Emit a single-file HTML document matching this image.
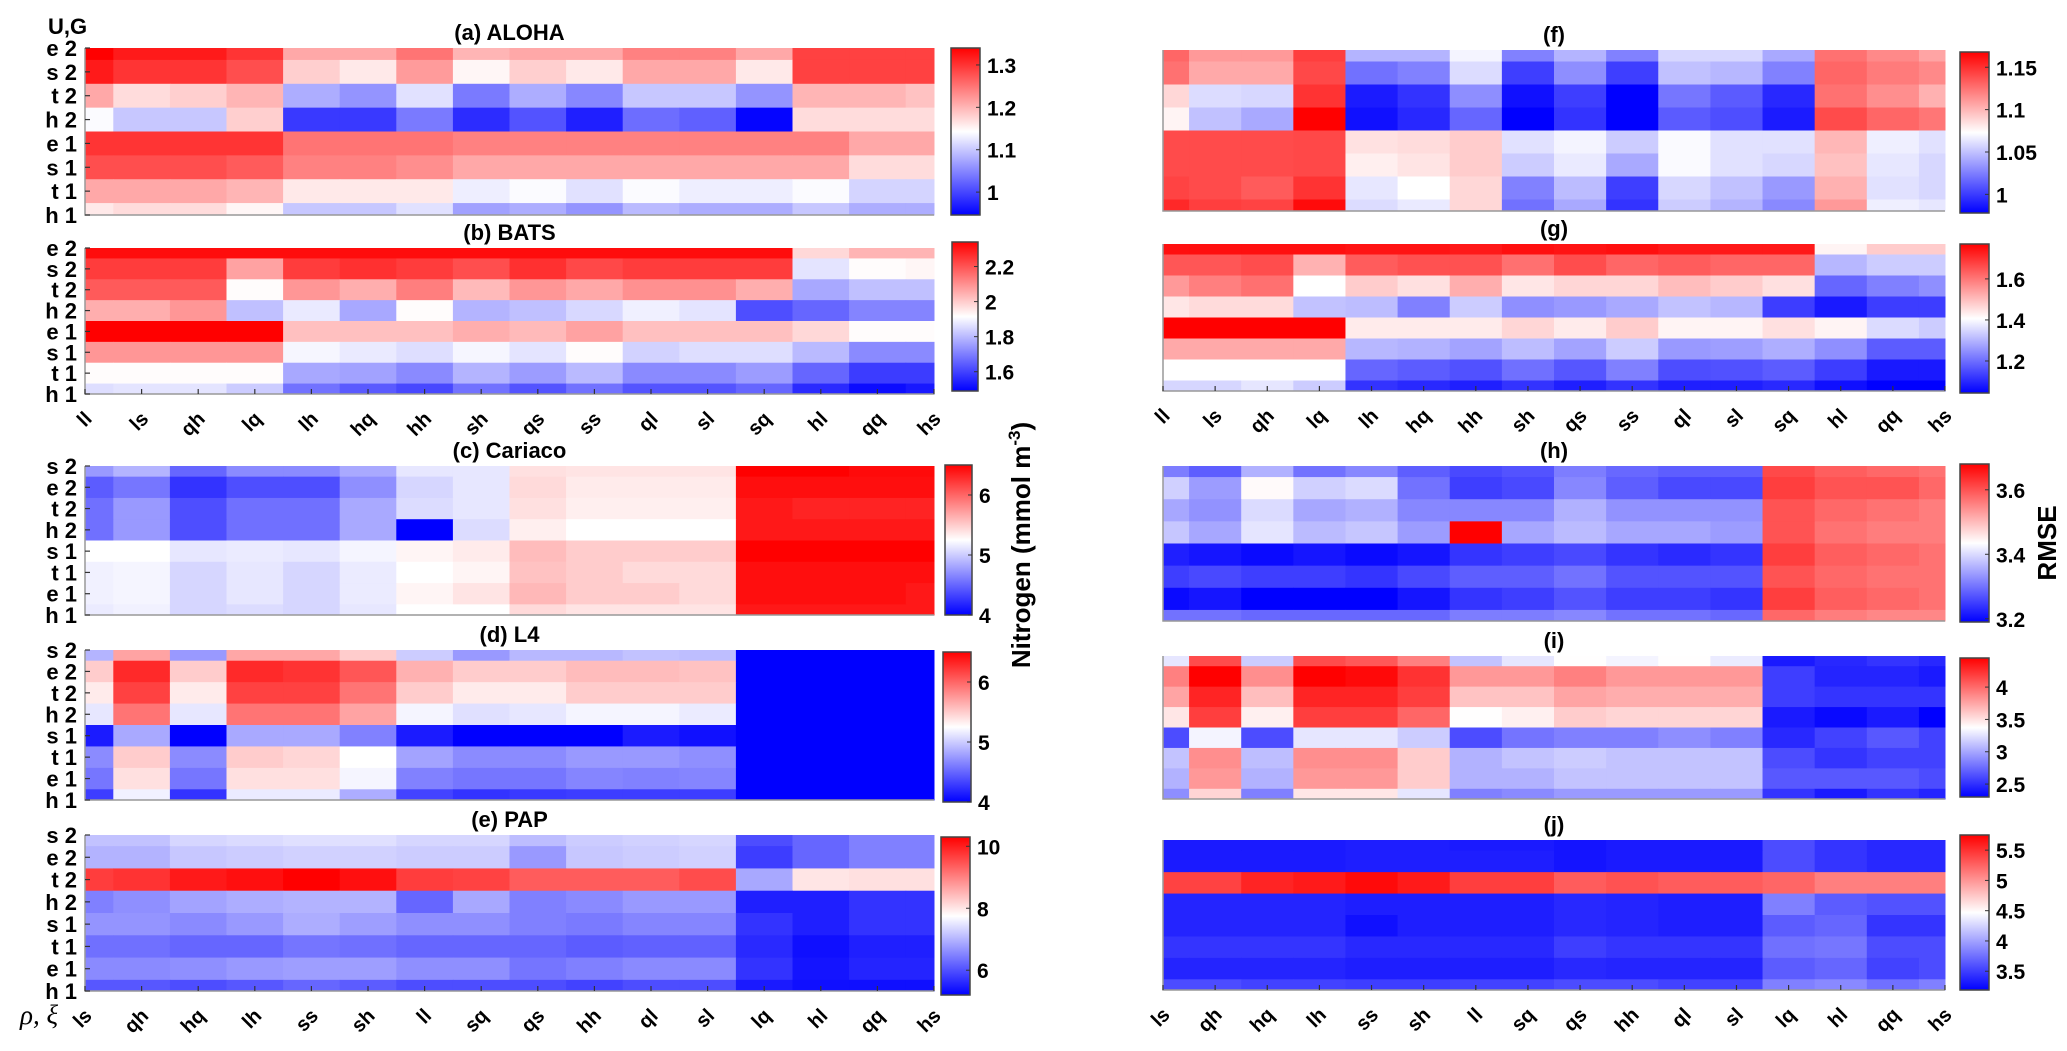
<!DOCTYPE html>
<html><head><meta charset="utf-8"><style>
html,body{margin:0;padding:0;background:#fff;}
svg{display:block;font-family:"Liberation Sans",Arial,sans-serif;}
</style></head><body>
<svg id="fig" width="2067" height="1051" viewBox="0 0 2067 1051" xmlns="http://www.w3.org/2000/svg">
<defs><linearGradient id="bwr" x1="0" y1="1" x2="0" y2="0"><stop offset="0" stop-color="#0000ff"/><stop offset="0.5" stop-color="#ffffff"/><stop offset="1" stop-color="#ff0000"/></linearGradient></defs>
<text x="48" y="34" font-size="22" font-weight="bold">U,G</text>
<text x="20" y="1024" font-size="27" font-style="italic" font-family="Liberation Serif, serif">ρ, ξ</text>
<text transform="translate(1030,545) rotate(-90)" text-anchor="middle" font-size="26" font-weight="bold">Nitrogen (mmol m<tspan dy="-10" font-size="17">-3</tspan><tspan dy="10">)</tspan></text>
<text transform="translate(2056,543) rotate(-90)" text-anchor="middle" font-size="26" font-weight="bold">RMSE</text>
</svg>
<script>
const rowsTop = ["e 2","s 2","t 2","h 2","e 1","s 1","t 1","h 1"];
const rowsBot = ["s 2","e 2","t 2","h 2","s 1","t 1","e 1","h 1"];
const colsTop = ["ll","ls","qh","lq","lh","hq","hh","sh","qs","ss","ql","sl","sq","hl","qq","hs"];
const colsBot = ["ls","qh","hq","lh","ss","sh","ll","sq","qs","hh","ql","sl","lq","hl","qq","hs"];

const dataA = [
[1.34,1.32,1.32,1.30,1.21,1.21,1.25,1.20,1.21,1.21,1.24,1.24,1.21,1.29,1.29,1.29],
[1.32,1.30,1.30,1.28,1.18,1.16,1.22,1.15,1.18,1.16,1.21,1.21,1.16,1.29,1.29,1.29],
[1.21,1.17,1.18,1.20,1.08,1.06,1.12,1.04,1.08,1.05,1.10,1.10,1.06,1.20,1.20,1.19],
[1.14,1.10,1.10,1.18,0.99,0.99,1.04,0.98,1.01,0.97,1.03,1.02,0.95,1.17,1.17,1.17],
[1.30,1.30,1.30,1.30,1.25,1.25,1.25,1.24,1.24,1.24,1.24,1.24,1.24,1.24,1.21,1.21],
[1.28,1.28,1.28,1.27,1.24,1.24,1.23,1.21,1.21,1.21,1.21,1.21,1.21,1.21,1.17,1.17],
[1.21,1.21,1.21,1.20,1.16,1.16,1.16,1.13,1.14,1.12,1.14,1.13,1.13,1.14,1.11,1.11],
[1.16,1.17,1.17,1.15,1.10,1.10,1.12,1.07,1.08,1.06,1.09,1.08,1.08,1.10,1.08,1.08]];
const dataB = [
[2.32,2.32,2.32,2.32,2.32,2.32,2.32,2.32,2.32,2.32,2.32,2.32,2.32,1.98,2.04,2.04],
[2.24,2.24,2.24,2.07,2.24,2.26,2.24,2.21,2.26,2.22,2.24,2.24,2.24,1.87,1.92,1.93],
[2.19,2.19,2.19,1.92,2.09,2.05,2.13,2.03,2.09,2.06,2.10,2.10,2.05,1.77,1.81,1.81],
[2.05,2.05,2.09,1.81,1.88,1.77,1.92,1.79,1.81,1.85,1.89,1.87,1.62,1.66,1.71,1.71],
[2.34,2.34,2.34,2.34,2.02,2.02,2.02,2.05,2.03,2.07,2.02,2.02,2.02,1.98,1.92,1.92],
[2.09,2.09,2.09,2.09,1.90,1.88,1.86,1.90,1.87,1.92,1.84,1.86,1.86,1.80,1.72,1.72],
[1.92,1.92,1.92,1.92,1.77,1.76,1.72,1.79,1.75,1.80,1.72,1.72,1.75,1.66,1.59,1.59],
[1.86,1.87,1.87,1.83,1.68,1.64,1.61,1.68,1.63,1.68,1.63,1.63,1.66,1.56,1.51,1.53]];
const dataC = [
[4.75,4.88,4.5,4.68,4.68,4.83,5.13,5.13,5.4,5.38,5.38,5.38,6.5,6.5,6.45,6.45],
[4.45,4.58,4.25,4.38,4.38,4.7,5.05,5.13,5.43,5.35,5.35,5.35,6.43,6.43,6.43,6.43],
[4.55,4.75,4.38,4.55,4.55,4.83,5.08,5.13,5.4,5.33,5.33,5.33,6.38,6.33,6.33,6.33],
[4.55,4.75,4.38,4.55,4.55,4.83,4.0,5.08,5.33,5.25,5.25,5.25,6.38,6.38,6.38,6.38],
[5.25,5.25,5.13,5.15,5.13,5.2,5.3,5.35,5.58,5.5,5.5,5.5,6.5,6.5,6.5,6.5],
[5.18,5.2,5.05,5.13,5.05,5.15,5.25,5.3,5.55,5.5,5.43,5.43,6.43,6.43,6.43,6.43],
[5.18,5.2,5.05,5.13,5.05,5.15,5.3,5.38,5.6,5.5,5.5,5.43,6.43,6.43,6.43,6.38],
[5.15,5.18,5.05,5.08,5.05,5.13,5.25,5.25,5.43,5.38,5.38,5.38,6.38,6.38,6.38,6.38]];
const dataD = [
[4.88,5.7,4.75,5.68,5.68,5.5,5.0,4.75,4.9,4.9,4.95,4.93,4,4,4,4],
[5.5,6.3,5.5,6.3,6.25,6.08,5.63,5.5,5.5,5.58,5.58,5.55,4,4,4,4],
[5.35,6.18,5.35,6.18,6.18,5.93,5.5,5.35,5.35,5.5,5.5,5.5,4,4,4,4],
[5.13,5.93,5.13,5.93,5.93,5.7,5.2,5.1,5.13,5.2,5.2,5.15,4,4,4,4],
[4.13,4.83,4.0,4.83,4.83,4.63,4.13,4.0,4.0,4.0,4.13,4.08,4,4,4,4],
[4.68,5.5,4.68,5.5,5.45,5.25,4.8,4.68,4.68,4.75,4.75,4.7,4,4,4,4],
[4.58,5.4,4.58,5.4,5.4,5.2,4.63,4.58,4.58,4.65,4.63,4.65,4,4,4,4],
[4.3,5.18,4.25,5.15,5.15,4.85,4.33,4.25,4.28,4.3,4.3,4.3,4,4,4,4]];
const dataE = [
[7.14,7.14,7.34,7.39,7.44,7.44,7.34,7.34,7.09,7.24,7.29,7.34,5.97,6.22,6.48,6.48],
[6.99,6.99,7.19,7.24,7.29,7.29,7.24,7.24,6.73,7.19,7.24,7.29,5.81,6.22,6.48,6.48],
[9.69,9.79,10.05,10.15,10.3,10.15,9.69,9.64,9.38,9.38,9.38,9.54,6.88,8.01,8.06,8.06],
[6.48,6.63,6.83,6.93,6.99,6.99,6.22,6.88,6.48,6.58,6.73,6.73,5.51,5.51,5.71,5.71],
[6.68,6.68,6.58,6.73,6.93,6.78,6.63,6.63,6.48,6.42,6.53,6.53,5.71,5.51,5.71,5.71],
[6.32,6.32,6.22,6.22,6.37,6.32,6.22,6.22,6.22,6.12,6.17,6.17,5.61,5.35,5.51,5.51],
[6.58,6.58,6.63,6.73,6.78,6.78,6.63,6.63,6.37,6.48,6.58,6.58,5.71,5.4,5.56,5.56],
[6.07,6.07,5.97,6.07,6.22,6.12,5.97,5.97,5.97,5.86,5.97,5.97,5.46,5.35,5.35,5.35]];
const dataF = [
[1.130,1.111,1.111,1.145,1.045,1.045,1.069,1.026,1.045,1.026,1.058,1.058,1.041,1.126,1.117,1.107],
[1.126,1.105,1.105,1.141,1.020,1.026,1.060,1.001,1.031,1.001,1.050,1.046,1.026,1.130,1.122,1.117],
[1.088,1.060,1.058,1.149,0.988,0.997,1.031,0.984,1.001,0.978,1.022,1.012,0.993,1.126,1.115,1.102],
[1.077,1.050,1.041,1.168,0.984,0.993,1.016,0.978,0.997,0.978,1.012,1.007,0.988,1.140,1.130,1.124],
[1.140,1.140,1.140,1.141,1.084,1.086,1.092,1.062,1.069,1.054,1.071,1.062,1.062,1.100,1.067,1.062],
[1.140,1.140,1.140,1.141,1.079,1.083,1.092,1.054,1.065,1.041,1.071,1.062,1.058,1.096,1.064,1.058],
[1.143,1.140,1.134,1.149,1.064,1.073,1.088,1.026,1.048,1.001,1.058,1.050,1.035,1.102,1.062,1.058],
[1.153,1.145,1.143,1.164,1.060,1.065,1.088,1.020,1.041,0.997,1.054,1.045,1.029,1.111,1.067,1.064]];
const dataG = [
[1.748,1.748,1.748,1.748,1.741,1.741,1.734,1.748,1.741,1.748,1.734,1.734,1.734,1.422,1.480,1.480],
[1.647,1.647,1.661,1.516,1.639,1.654,1.654,1.610,1.661,1.625,1.639,1.625,1.625,1.305,1.334,1.334],
[1.552,1.589,1.610,1.407,1.480,1.451,1.523,1.443,1.465,1.465,1.501,1.480,1.451,1.189,1.226,1.247],
[1.443,1.458,1.458,1.320,1.313,1.226,1.334,1.247,1.262,1.284,1.320,1.305,1.131,1.080,1.131,1.131],
[1.770,1.770,1.770,1.770,1.436,1.436,1.436,1.465,1.436,1.480,1.422,1.422,1.451,1.422,1.356,1.334],
[1.530,1.530,1.530,1.530,1.305,1.298,1.276,1.313,1.276,1.334,1.262,1.269,1.291,1.247,1.175,1.175],
[1.407,1.407,1.407,1.407,1.189,1.175,1.160,1.204,1.167,1.226,1.153,1.160,1.175,1.131,1.080,1.080],
[1.349,1.349,1.371,1.334,1.117,1.102,1.088,1.117,1.088,1.117,1.088,1.088,1.102,1.066,1.044,1.044]];
const dataH = [
[3.31,3.28,3.36,3.30,3.32,3.28,3.26,3.27,3.31,3.29,3.28,3.28,3.61,3.59,3.58,3.57],
[3.39,3.34,3.44,3.39,3.40,3.30,3.25,3.26,3.32,3.28,3.26,3.26,3.62,3.60,3.60,3.58],
[3.35,3.33,3.40,3.35,3.36,3.32,3.32,3.32,3.36,3.33,3.33,3.33,3.60,3.58,3.57,3.56],
[3.38,3.35,3.41,3.37,3.38,3.34,3.68,3.35,3.37,3.35,3.35,3.34,3.60,3.57,3.56,3.56],
[3.22,3.21,3.20,3.21,3.20,3.21,3.24,3.25,3.26,3.24,3.23,3.24,3.62,3.59,3.58,3.57],
[3.25,3.26,3.25,3.25,3.24,3.26,3.28,3.28,3.30,3.27,3.27,3.27,3.60,3.58,3.57,3.57],
[3.20,3.21,3.19,3.19,3.19,3.21,3.24,3.25,3.27,3.25,3.25,3.24,3.62,3.59,3.58,3.57],
[3.30,3.30,3.29,3.29,3.29,3.29,3.31,3.31,3.32,3.30,3.30,3.29,3.58,3.56,3.55,3.55]];
const dataI = [
[3.27,4.13,3.16,4.13,4.08,3.91,3.12,3.27,3.38,3.33,3.38,3.29,2.41,2.47,2.52,2.47],
[3.91,4.45,3.85,4.45,4.41,4.24,3.81,3.81,3.91,3.81,3.81,3.81,2.56,2.45,2.45,2.41],
[3.76,4.30,3.65,4.30,4.30,4.19,3.63,3.63,3.76,3.72,3.72,3.72,2.56,2.52,2.52,2.52],
[3.48,4.19,3.44,4.19,4.19,4.02,3.38,3.44,3.59,3.55,3.55,3.55,2.41,2.34,2.41,2.30],
[2.62,3.33,2.62,3.27,3.27,3.16,2.62,2.79,2.84,2.84,2.90,2.84,2.47,2.58,2.67,2.58],
[3.12,3.85,3.10,3.85,3.85,3.59,3.05,3.12,3.16,3.12,3.12,3.12,2.62,2.52,2.58,2.58],
[3.05,3.81,3.05,3.81,3.81,3.59,3.05,3.05,3.12,3.12,3.12,3.12,2.67,2.67,2.67,2.62],
[2.90,3.55,2.84,3.48,3.48,3.27,2.84,2.88,2.95,2.95,2.95,2.95,2.52,2.41,2.52,2.45]];
const dataJ = [
[3.32,3.32,3.32,3.32,3.34,3.34,3.32,3.32,3.29,3.32,3.32,3.32,3.57,3.45,3.39,3.39],
[3.32,3.32,3.32,3.32,3.34,3.34,3.34,3.34,3.29,3.32,3.32,3.32,3.57,3.45,3.39,3.39],
[5.42,5.42,5.57,5.62,5.70,5.62,5.44,5.44,5.29,5.34,5.29,5.29,5.24,5.11,5.11,5.11],
[3.37,3.37,3.37,3.37,3.34,3.34,3.34,3.34,3.39,3.37,3.34,3.34,3.83,3.65,3.60,3.60],
[3.37,3.37,3.37,3.37,3.27,3.34,3.34,3.34,3.39,3.37,3.34,3.34,3.65,3.70,3.45,3.45],
[3.45,3.45,3.45,3.45,3.39,3.39,3.39,3.39,3.50,3.45,3.45,3.45,3.75,3.78,3.57,3.57],
[3.37,3.37,3.37,3.37,3.34,3.34,3.34,3.34,3.39,3.37,3.37,3.37,3.65,3.70,3.52,3.57],
[3.57,3.57,3.52,3.52,3.50,3.50,3.52,3.52,3.57,3.57,3.52,3.52,3.83,3.88,3.75,3.83]];

const ticksA = [1, 1.1, 1.2, 1.3];
const ticksB = [1.6, 1.8, 2, 2.2];
const ticksC = [4, 5, 6];
const ticksD = [4, 5, 6];
const ticksE = [6, 8, 10];
const ticksF = [1, 1.05, 1.1, 1.15];
const ticksG = [1.2, 1.4, 1.6];
const ticksH = [3.2, 3.4, 3.6];
const ticksI = [2.5, 3, 3.5, 4];
const ticksJ = [3.5, 4, 4.5, 5, 5.5];
const limitsA = [0.946, 1.34], limitsB = [1.49, 2.34], limitsC = [4, 6.5], limitsD = [4, 6.5], limitsE = [5.2, 10.3];
const limitsF = [0.978, 1.168], limitsG = [1.044, 1.77], limitsH = [3.19, 3.68], limitsI = [2.3, 4.45], limitsJ = [3.19, 5.75];

const NS = "http://www.w3.org/2000/svg";
const svg = document.getElementById("fig");
function mk(tag, attrs, parent) {
  const e = document.createElementNS(NS, tag);
  for (const k in attrs) e.setAttribute(k, attrs[k]);
  (parent || svg).appendChild(e);
  return e;
}
function colorOf(v, lim) {
  let t = (v - lim[0]) / (lim[1] - lim[0]);
  t = Math.max(0, Math.min(1, t));
  let r, g, b;
  if (t < 0.5) { r = g = Math.round(255 * 2 * t); b = 255; }
  else { r = 255; g = b = Math.round(255 * (2 - 2 * t)); }
  return `rgb(${r},${g},${b})`;
}
function panel(id, title, data, lim, ticks, box, cb, rowLabels, colLabels, showY, xlabY) {
  const [L, T, R, B] = box;
  const g = mk("g", {});
  
  
  const nr = data.length, nc = data[0].length;
  const cw = (R - L) / (nc - 1), rh = (B - T) / (nr - 1);
  const xs = c => L + c * cw;
  const ys = r => T + r * rh;
  for (let r = 0; r < nr; r++) for (let c = 0; c < nc; c++) {
    const x0 = Math.max(L, xs(c) - cw / 2), x1 = Math.min(R, xs(c) + cw / 2);
    const y0 = Math.max(T, ys(r) - rh / 2), y1 = Math.min(B, ys(r) + rh / 2);
    const rc = mk("rect", {x: x0, y: y0, width: x1 - x0 + 0.5, height: y1 - y0 + 0.5, fill: colorOf(data[r][c], lim)}, g);
    
    
  }
  mk("polyline", {points: `${L},${T} ${L},${B} ${R},${B}`, fill: "none", stroke: "#999", "stroke-width": 1.5}, g);
  const tt = mk("text", {x: (L + R) / 2, y: T - 8, "text-anchor": "middle", "font-size": 22, "font-weight": "bold"}, g);
  tt.textContent = title;
  
  
  if (showY) for (let r = 0; r < nr; r++) {
    const yl = mk("text", {x: L - 8, y: ys(r) + 8, "text-anchor": "end", "font-size": 22, "font-weight": "bold"}, g);
    yl.textContent = rowLabels[r];
    
    
    mk("line", {x1: L, x2: L + 5, y1: ys(r), y2: ys(r), stroke: "#333", "stroke-width": 1.2}, g);
  }
  if (xlabY) for (let c = 0; c < nc; c++) {
    const xl = mk("text", {transform: `translate(${xs(c) + 8},${xlabY}) rotate(-45)`, "text-anchor": "end", "font-size": 20, "font-weight": "bold"}, g);
    xl.textContent = colLabels[c];
    
    
    mk("line", {x1: xs(c), x2: xs(c), y1: B, y2: B - 5, stroke: "#333", "stroke-width": 1.2}, g);
  }
  const [cx0, cy0, cx1, cy1] = cb;
  const bar = mk("rect", {x: cx0, y: cy0, width: cx1 - cx0, height: cy1 - cy0, fill: "url(#bwr)", stroke: "#444", "stroke-width": 1.5});
  
  
  const cbY = v => cy1 - (v - lim[0]) / (lim[1] - lim[0]) * (cy1 - cy0);
  for (const v of ticks) {
    mk("line", {x1: cx1 - 4, x2: cx1, y1: cbY(v), y2: cbY(v), stroke: "#333"});
    const tl = mk("text", {x: cx1 + 7, y: cbY(v) + 8, "font-size": 21, "font-weight": "bold"});
    tl.textContent = String(v);
    
    
  }
}
const LX0 = 85, LX1 = 934, RX0 = 1163, RX1 = 1945;
panel("a", "(a) ALOHA", dataA, limitsA, ticksA, [LX0, 48, LX1, 215], [951, 48, 980, 215], rowsTop, colsTop, true, null);
panel("b", "(b) BATS", dataB, limitsB, ticksB, [LX0, 248, LX1, 394], [952, 242, 978, 391], rowsTop, colsTop, true, 420);
panel("c", "(c) Cariaco", dataC, limitsC, ticksC, [LX0, 466, LX1, 615], [945, 465, 972, 615], rowsBot, colsBot, true, null);
panel("d", "(d) L4", dataD, limitsD, ticksD, [LX0, 650, LX1, 800], [943, 652, 971, 802], rowsBot, colsBot, true, null);
panel("e", "(e) PAP", dataE, limitsE, ticksE, [LX0, 835, LX1, 991], [941, 837, 970, 995], rowsBot, colsBot, true, 1017);
panel("f", "(f)", dataF, limitsF, ticksF, [RX0, 50, RX1, 211], [1960, 52, 1989, 213], rowsTop, colsTop, false, null);
panel("g", "(g)", dataG, limitsG, ticksG, [RX0, 244, RX1, 391], [1960, 244, 1989, 393], rowsTop, colsTop, false, 417);
panel("h", "(h)", dataH, limitsH, ticksH, [RX0, 466, RX1, 621], [1960, 464, 1989, 622], rowsBot, colsBot, false, null);
panel("i", "(i)", dataI, limitsI, ticksI, [RX0, 656, RX1, 799], [1960, 658, 1989, 797], rowsBot, colsBot, false, null);
panel("j", "(j)", dataJ, limitsJ, ticksJ, [RX0, 840, RX1, 990], [1960, 835, 1989, 990], rowsBot, colsBot, false, 1016);
</script>
</body></html>
